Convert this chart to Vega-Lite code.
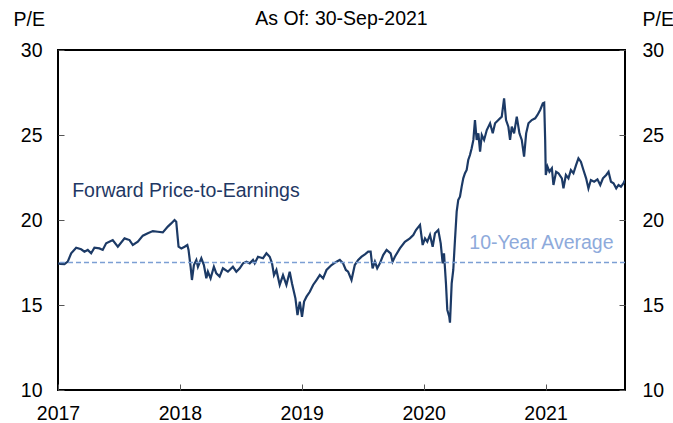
{
  "$schema": "https://vega.github.io/schema/vega-lite/v6.json",
  "width": 567,
  "height": 340,
  "autosize": "none",
  "padding": {"left": 58, "top": 50, "right": 48, "bottom": 33},
  "background": "white",
  "config": {
    "font": "Liberation Sans",
    "view": {"stroke": "#000000", "strokeWidth": 2},
    "axis": {
      "labelFont": "Liberation Sans",
      "labelFontSize": 19.5,
      "labelColor": "#000000",
      "titleFont": "Liberation Sans",
      "titleFontSize": 19.5,
      "titleFontWeight": "normal",
      "titleColor": "#000000",
      "domain": false,
      "grid": false,
      "tickColor": "#555555",
      "tickWidth": 1,
      "labelOverlap": false,
      "labelFlush": false
    }
  },
  "datasets": {
    "pe": [
      {"t": 2017.000, "pe": 17.45}, {"t": 2017.020, "pe": 17.42}, {"t": 2017.053, "pe": 17.4}, {"t": 2017.080, "pe": 17.55},
      {"t": 2017.108, "pe": 18.04}, {"t": 2017.149, "pe": 18.37}, {"t": 2017.190, "pe": 18.28}, {"t": 2017.217, "pe": 18.14},
      {"t": 2017.244, "pe": 18.24}, {"t": 2017.272, "pe": 18.04}, {"t": 2017.299, "pe": 18.37}, {"t": 2017.340, "pe": 18.33},
      {"t": 2017.367, "pe": 18.24}, {"t": 2017.395, "pe": 18.63}, {"t": 2017.449, "pe": 18.82}, {"t": 2017.491, "pe": 18.43},
      {"t": 2017.546, "pe": 18.92}, {"t": 2017.587, "pe": 18.82}, {"t": 2017.614, "pe": 18.53}, {"t": 2017.655, "pe": 18.72},
      {"t": 2017.696, "pe": 19.08}, {"t": 2017.737, "pe": 19.22}, {"t": 2017.778, "pe": 19.35}, {"t": 2017.819, "pe": 19.31},
      {"t": 2017.860, "pe": 19.27}, {"t": 2017.901, "pe": 19.61}, {"t": 2017.929, "pe": 19.8}, {"t": 2017.956, "pe": 20.0},
      {"t": 2017.970, "pe": 19.9}, {"t": 2017.989, "pe": 18.43}, {"t": 2018.012, "pe": 18.33}, {"t": 2018.039, "pe": 18.43},
      {"t": 2018.061, "pe": 18.53}, {"t": 2018.071, "pe": 18.24}, {"t": 2018.088, "pe": 17.25}, {"t": 2018.099, "pe": 16.47},
      {"t": 2018.115, "pe": 17.35}, {"t": 2018.135, "pe": 17.65}, {"t": 2018.148, "pe": 17.25}, {"t": 2018.176, "pe": 17.75},
      {"t": 2018.197, "pe": 17.35}, {"t": 2018.217, "pe": 16.57}, {"t": 2018.230, "pe": 16.96}, {"t": 2018.252, "pe": 16.57},
      {"t": 2018.279, "pe": 17.25}, {"t": 2018.299, "pe": 16.86}, {"t": 2018.326, "pe": 16.67}, {"t": 2018.353, "pe": 17.16},
      {"t": 2018.394, "pe": 16.96}, {"t": 2018.435, "pe": 17.25}, {"t": 2018.463, "pe": 16.96}, {"t": 2018.491, "pe": 17.16},
      {"t": 2018.518, "pe": 17.45}, {"t": 2018.546, "pe": 17.55}, {"t": 2018.573, "pe": 17.45}, {"t": 2018.600, "pe": 17.65},
      {"t": 2018.614, "pe": 17.45}, {"t": 2018.641, "pe": 17.84}, {"t": 2018.682, "pe": 17.75}, {"t": 2018.710, "pe": 18.04},
      {"t": 2018.737, "pe": 17.84}, {"t": 2018.756, "pe": 17.45}, {"t": 2018.772, "pe": 16.76}, {"t": 2018.792, "pe": 17.06},
      {"t": 2018.819, "pe": 16.18}, {"t": 2018.846, "pe": 16.76}, {"t": 2018.874, "pe": 16.18}, {"t": 2018.901, "pe": 16.96},
      {"t": 2018.920, "pe": 16.27}, {"t": 2018.948, "pe": 15.39}, {"t": 2018.965, "pe": 14.41}, {"t": 2018.984, "pe": 15.2},
      {"t": 2019.002, "pe": 14.3}, {"t": 2019.019, "pe": 15.2}, {"t": 2019.039, "pe": 15.49}, {"t": 2019.066, "pe": 15.78},
      {"t": 2019.093, "pe": 16.18}, {"t": 2019.121, "pe": 16.47}, {"t": 2019.148, "pe": 16.76}, {"t": 2019.175, "pe": 16.57},
      {"t": 2019.203, "pe": 17.06}, {"t": 2019.244, "pe": 17.35}, {"t": 2019.285, "pe": 17.55}, {"t": 2019.312, "pe": 17.65},
      {"t": 2019.339, "pe": 17.45}, {"t": 2019.362, "pe": 17.06}, {"t": 2019.380, "pe": 16.96}, {"t": 2019.408, "pe": 16.47},
      {"t": 2019.435, "pe": 17.35}, {"t": 2019.463, "pe": 17.65}, {"t": 2019.491, "pe": 17.84}, {"t": 2019.518, "pe": 17.98},
      {"t": 2019.545, "pe": 18.14}, {"t": 2019.565, "pe": 18.14}, {"t": 2019.581, "pe": 17.16}, {"t": 2019.600, "pe": 17.55},
      {"t": 2019.619, "pe": 17.16}, {"t": 2019.641, "pe": 17.45}, {"t": 2019.668, "pe": 17.94}, {"t": 2019.696, "pe": 18.24},
      {"t": 2019.729, "pe": 18.04}, {"t": 2019.745, "pe": 17.55}, {"t": 2019.764, "pe": 17.84}, {"t": 2019.805, "pe": 18.33},
      {"t": 2019.846, "pe": 18.72}, {"t": 2019.887, "pe": 18.92}, {"t": 2019.915, "pe": 19.12}, {"t": 2019.937, "pe": 19.41},
      {"t": 2019.970, "pe": 19.71}, {"t": 2019.992, "pe": 18.53}, {"t": 2020.011, "pe": 18.92}, {"t": 2020.030, "pe": 18.72},
      {"t": 2020.052, "pe": 19.12}, {"t": 2020.074, "pe": 18.43}, {"t": 2020.093, "pe": 19.22}, {"t": 2020.120, "pe": 19.41},
      {"t": 2020.140, "pe": 18.63}, {"t": 2020.156, "pe": 17.45}, {"t": 2020.167, "pe": 18.04}, {"t": 2020.183, "pe": 16.27},
      {"t": 2020.194, "pe": 14.71}, {"t": 2020.210, "pe": 14.31}, {"t": 2020.216, "pe": 13.96}, {"t": 2020.230, "pe": 16.27},
      {"t": 2020.243, "pe": 17.06}, {"t": 2020.257, "pe": 18.82}, {"t": 2020.271, "pe": 20.49}, {"t": 2020.284, "pe": 21.18},
      {"t": 2020.298, "pe": 21.37}, {"t": 2020.312, "pe": 21.96}, {"t": 2020.325, "pe": 22.45}, {"t": 2020.339, "pe": 22.75},
      {"t": 2020.353, "pe": 22.94}, {"t": 2020.366, "pe": 23.53}, {"t": 2020.380, "pe": 23.82}, {"t": 2020.394, "pe": 24.22},
      {"t": 2020.408, "pe": 24.71}, {"t": 2020.421, "pe": 25.88}, {"t": 2020.435, "pe": 24.71}, {"t": 2020.449, "pe": 25.1},
      {"t": 2020.463, "pe": 24.02}, {"t": 2020.477, "pe": 25.0}, {"t": 2020.496, "pe": 24.71}, {"t": 2020.518, "pe": 25.29},
      {"t": 2020.545, "pe": 25.69}, {"t": 2020.567, "pe": 25.1}, {"t": 2020.586, "pe": 25.69}, {"t": 2020.613, "pe": 25.88},
      {"t": 2020.641, "pe": 26.08}, {"t": 2020.660, "pe": 27.16}, {"t": 2020.676, "pe": 25.88}, {"t": 2020.695, "pe": 25.49},
      {"t": 2020.709, "pe": 24.71}, {"t": 2020.723, "pe": 25.49}, {"t": 2020.742, "pe": 25.1}, {"t": 2020.764, "pe": 26.08},
      {"t": 2020.786, "pe": 25.1}, {"t": 2020.805, "pe": 24.71}, {"t": 2020.824, "pe": 23.73}, {"t": 2020.841, "pe": 25.1},
      {"t": 2020.860, "pe": 25.69}, {"t": 2020.887, "pe": 25.88}, {"t": 2020.915, "pe": 25.98}, {"t": 2020.934, "pe": 26.18},
      {"t": 2020.956, "pe": 26.47}, {"t": 2020.978, "pe": 26.86}, {"t": 2020.989, "pe": 26.9}, {"t": 2020.997, "pe": 24.71},
      {"t": 2021.002, "pe": 22.65}, {"t": 2021.016, "pe": 23.14}, {"t": 2021.032, "pe": 22.84}, {"t": 2021.052, "pe": 23.04},
      {"t": 2021.065, "pe": 22.06}, {"t": 2021.087, "pe": 22.84}, {"t": 2021.106, "pe": 22.75}, {"t": 2021.134, "pe": 22.45},
      {"t": 2021.147, "pe": 21.86}, {"t": 2021.167, "pe": 22.65}, {"t": 2021.188, "pe": 22.45}, {"t": 2021.208, "pe": 22.94},
      {"t": 2021.229, "pe": 22.75}, {"t": 2021.251, "pe": 23.24}, {"t": 2021.270, "pe": 23.63}, {"t": 2021.290, "pe": 23.43},
      {"t": 2021.311, "pe": 22.94}, {"t": 2021.333, "pe": 22.45}, {"t": 2021.352, "pe": 21.86}, {"t": 2021.372, "pe": 22.35},
      {"t": 2021.399, "pe": 22.25}, {"t": 2021.426, "pe": 22.39}, {"t": 2021.449, "pe": 22.06}, {"t": 2021.471, "pe": 22.45},
      {"t": 2021.498, "pe": 22.65}, {"t": 2021.517, "pe": 22.84}, {"t": 2021.537, "pe": 22.25}, {"t": 2021.558, "pe": 22.16},
      {"t": 2021.580, "pe": 21.86}, {"t": 2021.599, "pe": 22.06}, {"t": 2021.619, "pe": 21.96}, {"t": 2021.640, "pe": 22.16},
      {"t": 2021.652, "pe": 22.35}
    ],
    "one": [{"avg": 17.5}]
  },
  "resolve": {"axis": {"y": "independent"}},
  "layer": [
    {
      "data": {"name": "pe"},
      "mark": {"type": "line", "color": "#1c3a66", "strokeWidth": 2.2, "clip": true},
      "encoding": {
        "x": {
          "field": "t", "type": "quantitative",
          "scale": {"domain": [2017, 2021.652], "nice": false, "zero": false},
          "axis": {"values": [2017, 2018, 2019, 2020, 2021], "format": "d", "title": null, "tickSize": -6, "labelPadding": 20}
        },
        "y": {
          "field": "pe", "type": "quantitative",
          "scale": {"domain": [10, 30], "nice": false, "zero": false},
          "axis": {"orient": "left", "values": [10, 15, 20, 25, 30], "title": "P/E", "titleAngle": 0, "titleAlign": "left", "titleBaseline": "alphabetic", "titleX": -45, "titleY": -25, "tickSize": -6, "labelPadding": 22}
        }
      }
    },
    {
      "data": {"name": "one"},
      "mark": {"type": "rule", "color": "#7c9fd4", "strokeWidth": 1.5, "strokeDash": [5, 3]},
      "encoding": {
        "y": {
          "field": "avg", "type": "quantitative",
          "axis": {"orient": "right", "values": [10, 15, 20, 25, 30], "title": "P/E", "titleAngle": 0, "titleAlign": "left", "titleBaseline": "alphabetic", "titleX": 17, "titleY": -25, "tickSize": -6, "labelPadding": 23}
        }
      }
    },
    {
      "data": {"values": [{}]},
      "mark": {"type": "text", "text": "Forward Price-to-Earnings", "align": "left", "baseline": "alphabetic", "fontSize": 19.5, "color": "#1f3864"},
      "encoding": {
        "x": {"datum": 2017.116, "type": "quantitative"},
        "y": {"datum": 21.37, "type": "quantitative", "axis": null}
      }
    },
    {
      "data": {"values": [{}]},
      "mark": {"type": "text", "text": "10-Year Average", "align": "left", "baseline": "alphabetic", "fontSize": 19.5, "color": "#8eaadb"},
      "encoding": {
        "x": {"datum": 2020.375, "type": "quantitative"},
        "y": {"datum": 18.3, "type": "quantitative", "axis": null}
      }
    },
    {
      "data": {"values": [{}]},
      "mark": {"type": "text", "text": "As Of: 30-Sep-2021", "align": "center", "baseline": "alphabetic", "fontSize": 19.5, "color": "#000000", "clip": false},
      "encoding": {
        "x": {"datum": 2019.326, "type": "quantitative"},
        "y": {"datum": 31.47, "type": "quantitative", "axis": null}
      }
    }
  ]
}
